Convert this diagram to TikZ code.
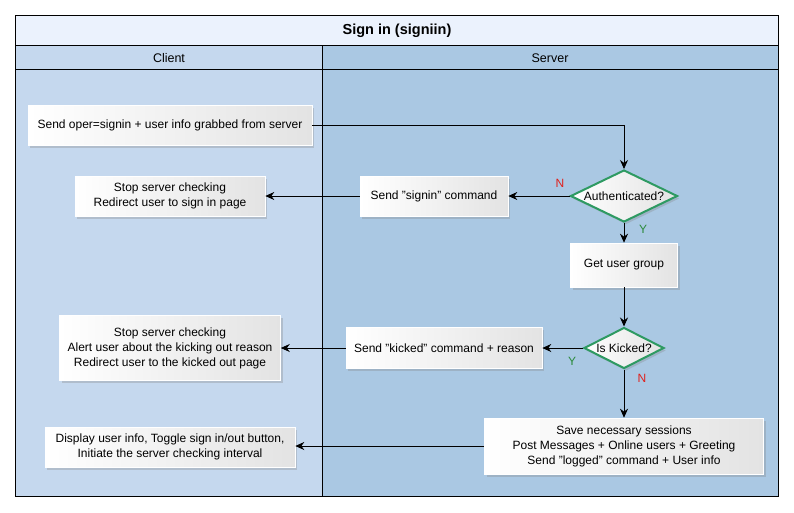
\documentclass[tikz,border=0pt]{standalone}
\usepackage{fontspec}
\setmainfont{Liberation Sans}
\usetikzlibrary{arrows.meta,shapes.geometric,shadows}
\definecolor{titlefill}{HTML}{EBF2FD}
\definecolor{clientfill}{HTML}{C5D8EE}
\definecolor{serverfill}{HTML}{AAC8E3}
\definecolor{decisionline}{HTML}{2E9A62}
\definecolor{nored}{HTML}{E0201C}
\definecolor{yesgreen}{HTML}{2A8A3A}
\newcommand{\qt}{\symbol{34}}
\tikzset{
  task/.style={draw=white, line width=0.6pt, left color=white, right color=black!11,
    drop shadow={shadow xshift=2pt, shadow yshift=-2.5pt, opacity=0.3},
    align=center, inner sep=0pt, font=\fontsize{12}{15}\selectfont},
  decision/.style={diamond, aspect=2, draw=decisionline, line width=2pt, inner sep=0pt,
    left color=white, right color=black!11,
    drop shadow={shadow xshift=2pt, shadow yshift=-2.5pt, opacity=0.3},
    font=\fontsize{12}{15}\selectfont},
  flow/.style={-{Stealth[length=9pt,width=8pt]}, line width=0.8pt},
  answer/.style={font=\fontsize{12}{15}\selectfont}
}
\begin{document}
\begin{tikzpicture}[x=1pt,y=-1pt]
  \useasboundingbox (0,0) rectangle (794,512);
  % swimlanes
  \fill[titlefill] (15,15) rectangle (778,45);
  \fill[clientfill] (15,45) rectangle (322,496);
  \fill[serverfill] (322,45) rectangle (778,496);
  \draw[line width=0.8pt] (15,15) rectangle (778,496);
  \draw[line width=0.8pt] (15,45) -- (778,45);
  \draw[line width=0.8pt] (15,69) -- (778,69);
  \draw[line width=0.8pt] (322,45) -- (322,496);
  \node[font=\fontsize{14.5}{17}\selectfont\bfseries] (title) at (397,31) {Sign in (signiin)};
  \node[font=\fontsize{12.5}{15}\selectfont] (client) at (169,58) {Client};
  \node[font=\fontsize{12.5}{15}\selectfont] (server) at (550,58) {Server};
  % client side
  \node[task, minimum width=284pt, minimum height=40pt] (oper) at (170,125) {Send oper=signin + user info grabbed from server};
  \node[task, minimum width=190pt, minimum height=40pt] (stopsign) at (170,196) {Stop server checking\\Redirect user to sign in page};
  \node[task, minimum width=221pt, minimum height=65pt] (stopkick) at (170,348) {Stop server checking\\Alert user about the kicking out reason\\Redirect user to the kicked out page};
  \node[task, minimum width=250pt, minimum height=40pt] (display) at (170,447) {Display user info, Toggle sign in/out button,\\Initiate the server checking interval};
  % server side
  \node[decision, minimum width=107pt, minimum height=52pt] (auth) at (624,196) {Authenticated?};
  \node[task, minimum width=148pt, minimum height=40pt] (sendsign) at (434,196) {Send \qt signin\qt{} command};
  \node[task, minimum width=107pt, minimum height=44pt] (group) at (624,265) {Get user group};
  \node[decision, minimum width=80pt, minimum height=41pt] (kicked) at (624,348) {Is Kicked?};
  \node[task, minimum width=196pt, minimum height=41pt] (sendkick) at (444,348) {Send \qt kicked\qt{} command + reason};
  \node[task, minimum width=279pt, minimum height=56pt] (save) at (624,446) {Save necessary sessions\\Post Messages + Online users + Greeting\\Send \qt logged\qt{} command + User info};
  % answers
  \node[answer, text=nored] (authno) at (560,183) {N};
  \node[answer, text=yesgreen] (authyes) at (643,229) {Y};
  \node[answer, text=yesgreen] (kickyes) at (572,361) {Y};
  \node[answer, text=nored] (kickno) at (642,378) {N};
  % connectors
  \draw[flow] (oper.east) -| (auth.north);
  \draw[flow] (auth.west) -- (sendsign.east);
  \draw[flow] (sendsign.west) -- (stopsign.east);
  \draw[flow] (auth.south) -- (group.north);
  \draw[flow] (group.south) -- (kicked.north);
  \draw[flow] (kicked.west) -- (sendkick.east);
  \draw[flow] (sendkick.west) -- (stopkick.east);
  \draw[flow] (kicked.south) -- (kicked.south |- save.north);
  \draw[flow] (save.west) -- (save.west -| display.east);
\end{tikzpicture}
\end{document}
